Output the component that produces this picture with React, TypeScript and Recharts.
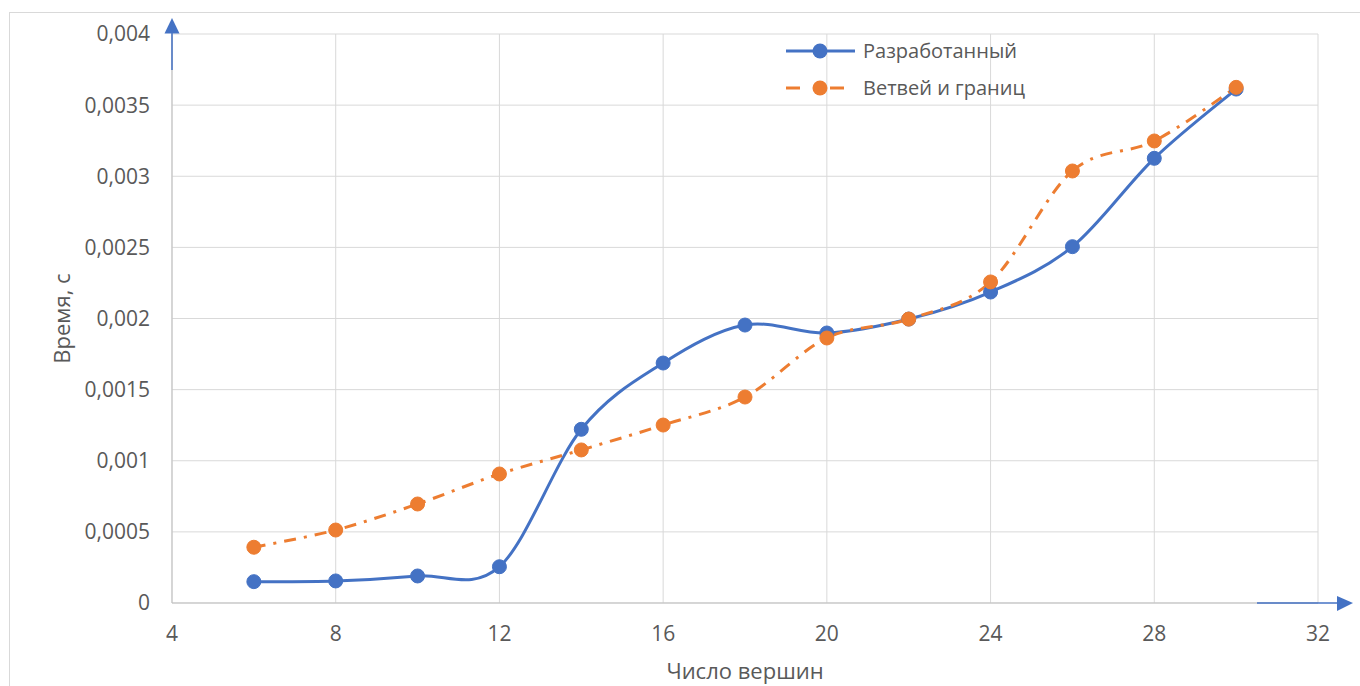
import { CartesianGrid, Line, LineChart, XAxis, YAxis } from 'recharts';

const vertices = [6, 8, 10, 12, 14, 16, 18, 20, 22, 24, 26, 28, 30];
const developed = [0.00015, 0.000155, 0.00019, 0.000255, 0.001221, 0.001687, 0.001954, 0.001898, 0.001996, 0.002186, 0.002505, 0.003126, 0.003613];
const branchBound = [0.000392, 0.000513, 0.000696, 0.000907, 0.001076, 0.001251, 0.001448, 0.001863, 0.001996, 0.002257, 0.003037, 0.003248, 0.003625];

const xTicks = [4, 8, 12, 16, 20, 24, 28, 32];
const yTicks = [0, 0.0005, 0.001, 0.0015, 0.002, 0.0025, 0.003, 0.0035, 0.004];

const series = [
    { key: 'developed', name: 'Разработанный', color: '#4472C4', dash: undefined as string | undefined },
    { key: 'branchBound', name: 'Ветвей и границ', color: '#ED7D31', dash: '12 8 3 8' },
];

const data = vertices.map((x, i) => ({ x, developed: developed[i], branchBound: branchBound[i] }));

const FONT = '"Open Sans", sans-serif';
const TEXT = '#595959';
const GRID = '#d9d9d9';

// Excel-style smoothing: bezier with control points from neighbours (catmull-rom, 1/6)
function excelSmooth(context: any) {
    let pts: number[][] = [];
    return {
        areaStart() {},
        areaEnd() {},
        lineStart() {
            pts = [];
        },
        lineEnd() {
            if (!pts.length) return;
            context.moveTo(pts[0][0], pts[0][1]);
            for (let i = 0; i < pts.length - 1; i++) {
                const p0 = pts[i - 1] || pts[i];
                const p1 = pts[i];
                const p2 = pts[i + 1];
                const p3 = pts[i + 2] || pts[i + 1];
                context.bezierCurveTo(
                    p1[0] + (p2[0] - p0[0]) / 6,
                    p1[1] + (p2[1] - p0[1]) / 6,
                    p2[0] - (p3[0] - p1[0]) / 6,
                    p2[1] - (p3[1] - p1[1]) / 6,
                    p2[0],
                    p2[1]
                );
            }
        },
        point(x: number, y: number) {
            pts.push([+x, +y]);
        },
    };
}

const fmt = (v: number) => String(v).replace('.', ',');

export default function App() {
    return (
        <div style={{ position: 'absolute', left: 0, top: 0, width: 1360, height: 686, background: '#fff', overflow: 'hidden' }}>
            <div style={{ position: 'absolute', left: 9, top: 12, right: -2, bottom: -2, borderLeft: `1px solid ${GRID}`, borderTop: `1px solid ${GRID}` }} />
            <LineChart width={1360} height={686} data={data} margin={{ top: 34, right: 42, left: 30, bottom: 0 }} style={{ position: 'absolute', left: 0, top: 0 }}>
                <CartesianGrid stroke={GRID} strokeWidth={1} />
                <XAxis
                    dataKey='x'
                    type='number'
                    domain={[4, 32]}
                    ticks={xTicks}
                    height={83}
                    tickLine={false}
                    tickSize={0}
                    tickMargin={23}
                    axisLine={{ stroke: '#bfbfbf' }}
                    tick={{ fill: TEXT, fontSize: 21, fontFamily: FONT }}
                    label={{ value: 'Число вершин', position: 'insideBottom', offset: 7, fill: TEXT, fontSize: 22, fontFamily: FONT }}
                />
                <YAxis
                    type='number'
                    domain={[0, 0.004]}
                    ticks={yTicks}
                    width={142}
                    tickLine={false}
                    tickSize={0}
                    tickMargin={22}
                    axisLine={{ stroke: '#bfbfbf' }}
                    tickFormatter={fmt}
                    tick={{ fill: TEXT, fontSize: 21, fontFamily: FONT }}
                    label={{ value: 'Время, с', angle: -90, position: 'insideLeft', offset: 32, fill: TEXT, fontSize: 22, fontFamily: FONT, style: { textAnchor: 'middle' } }}
                />
                {series.map((s) => (
                    <Line
                        key={s.key}
                        dataKey={s.key}
                        name={s.name}
                        type={excelSmooth as any}
                        stroke={s.color}
                        strokeWidth={3}
                        strokeDasharray={s.dash}
                        dot={{ r: 7, fill: s.color, stroke: s.color, strokeWidth: 1, strokeDasharray: '' }}
                        isAnimationActive={false}
                    />
                ))}
            </LineChart>
            {/* axis arrows */}
            <svg width={1360} height={686} style={{ position: 'absolute', left: 0, top: 0, pointerEvents: 'none' }}>
                <line x1={172} y1={70} x2={172} y2={32} stroke='#4472C4' strokeWidth={1.5} />
                <polygon points='172,18 164.5,33.5 179.5,33.5' fill='#4472C4' />
                <line x1={1257} y1={603} x2={1339} y2={603} stroke='#4472C4' strokeWidth={1.5} />
                <polygon points='1353,603 1337,596 1337,611' fill='#4472C4' />
            </svg>
            <div style={{ position: 'absolute', left: 784, top: 32, fontFamily: FONT, fontSize: 20, color: TEXT }}>
                {series.map((s) => (
                    <div key={s.key} style={{ display: 'flex', alignItems: 'center', height: 37 }}>
                        <svg width={74} height={20} style={{ marginRight: 5 }}>
                            {s.dash ? (
                                <>
                                    <line x1={2} y1={10} x2={16} y2={10} stroke={s.color} strokeWidth={3} />
                                    <line x1={46} y1={10} x2={60} y2={10} stroke={s.color} strokeWidth={3} />
                                </>
                            ) : (
                                <line x1={2} y1={10} x2={71} y2={10} stroke={s.color} strokeWidth={3} />
                            )}
                            <circle cx={36} cy={10} r={7.5} fill={s.color} />
                        </svg>
                        <span>{s.name}</span>
                    </div>
                ))}
            </div>
        </div>
    );
}
